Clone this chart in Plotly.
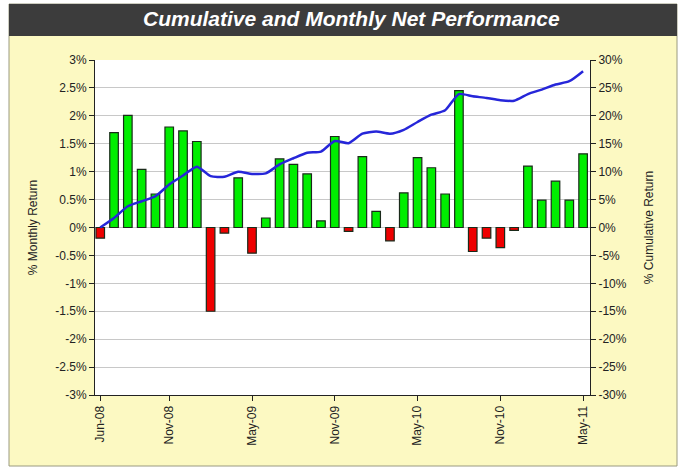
import plotly.graph_objects as go

months = ["Jun-08","Jul-08","Aug-08","Sep-08","Oct-08","Nov-08","Dec-08","Jan-09","Feb-09","Mar-09",
          "Apr-09","May-09","Jun-09","Jul-09","Aug-09","Sep-09","Oct-09","Nov-09","Dec-09","Jan-10",
          "Feb-10","Mar-10","Apr-10","May-10","Jun-10","Jul-10","Aug-10","Sep-10","Oct-10","Nov-10",
          "Dec-10","Jan-11","Feb-11","Mar-11","Apr-11","May-11"]

monthly_return = [-0.19, 1.70, 2.01, 1.04, 0.60, 1.80, 1.73, 1.54, -1.50, -0.10,
                  0.89, -0.46, 0.17, 1.23, 1.13, 0.96, 0.12, 1.63, -0.07, 1.27,
                  0.29, -0.24, 0.62, 1.25, 1.07, 0.60, 2.45, -0.43, -0.19, -0.36,
                  -0.05, 1.10, 0.49, 0.83, 0.49, 1.32]

cumulative_return = [0.0, 1.7, 3.8, 4.7, 5.6, 7.7, 9.3, 10.9, 9.2, 9.1,
                     10.0, 9.6, 9.7, 11.3, 12.4, 13.4, 13.6, 15.5, 15.1, 16.8,
                     17.2, 16.8, 17.5, 18.9, 20.2, 21.0, 23.9, 23.5, 23.2, 22.8,
                     22.7, 23.9, 24.7, 25.6, 26.2, 28.0]

tick_months = ["Jun-08", "Nov-08", "May-09", "Nov-09", "May-10", "Nov-10", "May-11"]

left_ticks = [-3, -2.5, -2, -1.5, -1, -0.5, 0, 0.5, 1, 1.5, 2, 2.5, 3]
right_ticks = [-30, -25, -20, -15, -10, -5, 0, 5, 10, 15, 20, 25, 30]

def fmt(v):
    return ("%g" % v) + "%"

bar_colors = ["#00EE00" if v >= 0 else "#EE0000" for v in monthly_return]

fig = go.Figure()
fig.add_trace(go.Bar(
    x=months, y=monthly_return,
    marker=dict(color=bar_colors, line=dict(color="#1a2a1a", width=1.2)),
    width=0.62, yaxis="y", showlegend=False,
))
fig.add_trace(go.Scatter(
    x=months, y=cumulative_return, mode="lines",
    line=dict(color="#2626D9", width=2.5, shape="spline", smoothing=0.6),
    yaxis="y2", showlegend=False,
))

FONT = "Arial, Liberation Sans, sans-serif"
L, R, T, B = 95, 590, 60, 395
W, H = 686, 471
def px(x):
    return (x - L) / (R - L)
def py(y):
    return (B - y) / (B - T)

shapes = [
    dict(type="rect", xref="paper", yref="paper", x0=px(9), x1=px(677), y0=py(466), y1=py(4),
         fillcolor="#FCF9C2", line=dict(color="#9a9a80", width=1), layer="below"),
    dict(type="rect", xref="paper", yref="paper", x0=px(L), x1=px(R), y0=0, y1=1,
         fillcolor="white", line=dict(width=0), layer="below"),
    dict(type="rect", xref="paper", yref="paper", x0=px(9), x1=px(677), y0=py(36), y1=py(4),
         fillcolor="#3C3C3C", line=dict(width=0), layer="below"),
]

fig.update_layout(
    width=W, height=H,
    margin=dict(l=L, r=W - R, t=T, b=H - B, autoexpand=False),
    paper_bgcolor="white", plot_bgcolor="rgba(0,0,0,0)",
    shapes=shapes,
    font=dict(family=FONT, size=12, color="#222222"),
    annotations=[dict(text="<b><i>Cumulative and Monthly Net Performance</i></b>",
                      xref="paper", yref="paper", x=px(351), y=py(19),
                      xanchor="center", yanchor="middle",
                      showarrow=False, font=dict(family=FONT, size=21, color="white"))],
    xaxis=dict(
        type="category", categoryorder="array", categoryarray=months,
        range=[-0.38, 35.5], automargin=False,
        tickmode="array", tickvals=tick_months, ticktext=tick_months,
        tickangle=-90, ticks="outside", ticklen=5, tickcolor="#222",
        showline=True, linecolor="#222", linewidth=1, mirror=False,
        showgrid=False, zeroline=False, tickfont=dict(size=12),
    ),
    yaxis=dict(
        range=[-3, 3], tickvals=left_ticks, ticktext=[fmt(v) for v in left_ticks],
        ticks="outside", ticklen=5, tickcolor="#222", automargin=False,
        showline=True, linecolor="#222", linewidth=1,
        showgrid=True, gridcolor="#C8C8C8", gridwidth=1, zeroline=False,
        title=dict(text="% Monthly Return", font=dict(size=12), standoff=15),
    ),
    yaxis2=dict(
        range=[-30, 30], overlaying="y", side="right", automargin=False,
        tickvals=right_ticks, ticktext=[fmt(v) for v in right_ticks],
        ticks="outside", ticklen=5, tickcolor="#222",
        showline=True, linecolor="#222", linewidth=1,
        showgrid=False, zeroline=False,
        title=dict(text="% Cumulative Return", font=dict(size=12), standoff=18),
    ),
)

fig.write_html("out.html", config={"displayModeBar": False},
               post_script="document.body.style.margin='0';document.body.style.overflow='hidden';")
